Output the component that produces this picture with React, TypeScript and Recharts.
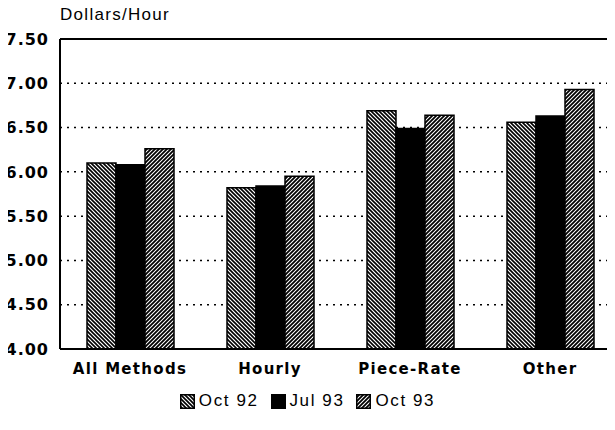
import { BarChart, Bar, XAxis, YAxis, CartesianGrid, ReferenceLine } from 'recharts';

const categories = ['All Methods', 'Hourly', 'Piece-Rate', 'Other'];
const oct92 = [6.1, 5.82, 6.69, 6.56];
const jul93 = [6.08, 5.84, 6.49, 6.63];
const oct93 = [6.26, 5.95, 6.64, 6.93];
const yTicks = [4, 4.5, 5, 5.5, 6, 6.5, 7, 7.5];

const data = categories.map((name, i) => ({
  name,
  oct92: oct92[i],
  jul93: jul93[i],
  oct93: oct93[i],
}));

const series = [
  { key: 'oct92', label: 'Oct 92', fill: 'url(#hatchBack)' },
  { key: 'jul93', label: 'Jul 93', fill: '#000' },
  { key: 'oct93', label: 'Oct 93', fill: 'url(#hatchFwd)' },
];

const LegendBox = () => (
  <div
    style={{
      position: 'absolute', left: 0, width: 615, top: 391,
      display: 'flex', justifyContent: 'center', gap: 12,
      fontFamily: 'Liberation Sans, Arial, sans-serif', fontSize: 17, letterSpacing: 1.6, color: '#000',
    }}
  >
    {series.map((s) => (
      <div key={s.key} style={{ display: 'flex', alignItems: 'center', gap: 4 }}>
        <svg width={15} height={15}>
          <rect x={0.75} y={0.75} width={13.5} height={13.5} fill={s.fill} stroke="#000" strokeWidth={1.5} />
        </svg>
        <span>{s.label}</span>
      </div>
    ))}
  </div>
);

export default function App() {
  return (
    <div style={{ margin: -8, width: 615, height: 430, overflow: 'hidden', position: 'relative', background: '#fff' }}>
      <svg width={0} height={0} style={{ position: 'absolute' }}>
        <defs>
          <pattern id="hatchBack" patternUnits="userSpaceOnUse" width={4} height={4}>
            <rect width={4} height={4} fill="#fff" />
            <path d="M-1,-1 L5,5 M-1,3 L1,5 M3,-1 L5,1" stroke="#000" strokeWidth={1.6} />
          </pattern>
          <pattern id="hatchFwd" patternUnits="userSpaceOnUse" width={4} height={4}>
            <rect width={4} height={4} fill="#fff" />
            <path d="M-1,5 L5,-1 M-1,1 L1,-1 M3,5 L5,3" stroke="#000" strokeWidth={1.8} />
          </pattern>
        </defs>
      </svg>
      <div style={{ position: 'absolute', left: 60, top: 5, fontFamily: 'Liberation Sans, Arial, sans-serif', fontSize: 17, letterSpacing: 1.3, color: '#000' }}>
        Dollars/Hour
      </div>
      <BarChart
        width={620}
        height={430}
        data={data}
        margin={{ top: 39, right: 0, bottom: 0, left: 0 }}
        barCategoryGap={27}
        barGap={0}
      >
        <CartesianGrid vertical={false} stroke="#000" strokeWidth={1.5} strokeDasharray="2 5" />
        <ReferenceLine y={7.5} stroke="#000" strokeWidth={2} />
        <XAxis
          dataKey="name"
          axisLine={{ stroke: '#000', strokeWidth: 2 }}
          tickLine={false}
          height={81}
          tick={{ fill: '#000', fontSize: 15, fontWeight: 'bold', fontFamily: 'DejaVu Sans', letterSpacing: 1.3 }}
          tickMargin={8}
        />
        <YAxis
          domain={[4, 7.5]}
          ticks={yTicks}
          tickFormatter={(v) => v.toFixed(2)}
          width={60}
          axisLine={{ stroke: '#000', strokeWidth: 2 }}
          tickLine={false}
          tickMargin={5}
          tick={{ fill: '#000', fontSize: 16, fontWeight: 'bold', fontFamily: 'DejaVu Sans', letterSpacing: 1 }}
        />
        {series.map((s) => (
          <Bar key={s.key} dataKey={s.key} name={s.label} fill={s.fill} stroke="#000" strokeWidth={1.5} isAnimationActive={false} />
        ))}
      </BarChart>
      <LegendBox />
    </div>
  );
}
